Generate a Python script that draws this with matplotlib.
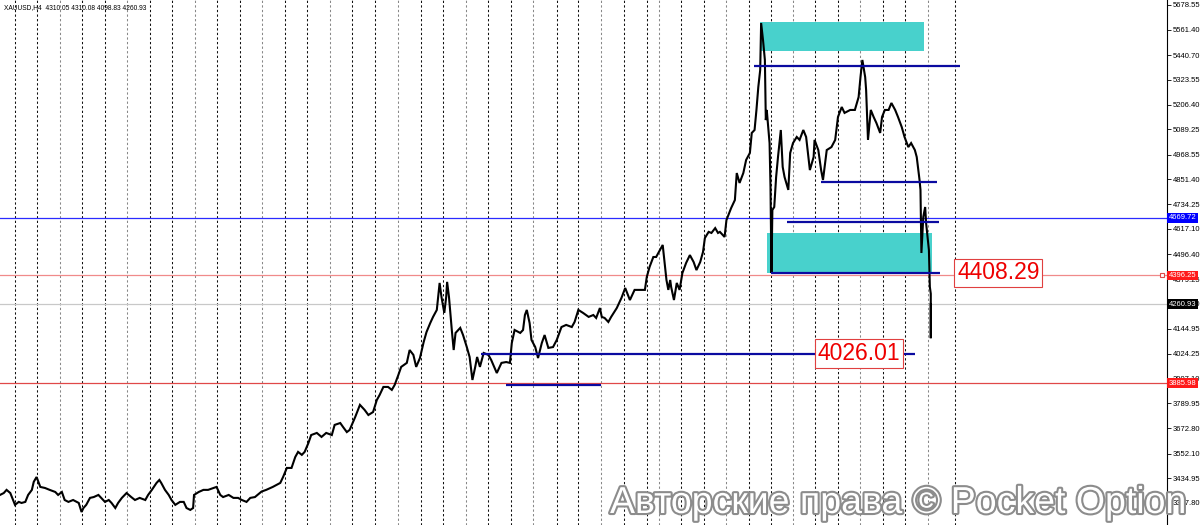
import matplotlib
matplotlib.use("Agg")
import matplotlib.pyplot as plt
import matplotlib.patheffects as pe
from matplotlib.transforms import blended_transform_factory

# ---------------- data ----------------
symbol_info = "XAUUSD,H4  4310.05 4310.08 4098.83 4260.93"

# time (hours since first bar) and traced price path of XAUUSD H4
hours = [
    0, 4, 7, 11, 14, 16, 20, 23, 27, 30,
    34, 36, 39, 43, 48, 53, 59, 62, 66, 69,
    73, 78, 84, 87, 89, 92, 96, 100, 105, 108,
    112, 116, 119, 123, 126, 130, 135, 140, 144, 149,
    155, 158, 162, 167, 170, 172, 176, 180, 183, 187,
    192, 196, 199, 203, 206, 207, 212, 217, 222, 228,
    231, 235, 238, 244, 249, 254, 258, 263, 267,
    272, 279, 284, 291, 299, 302, 306, 311, 315, 318,
    322, 325, 329, 332, 338, 343, 348, 354, 357, 363,
    366, 370, 373, 379, 384, 389, 393, 398, 402, 405,
    409, 414, 418, 421, 425, 428, 434, 437, 441, 444,
    448, 452, 455, 459, 462, 466, 469, 471, 474, 476,
    477, 479, 482, 484, 486, 491, 494, 498, 501, 504,
    507, 509, 512,
    516, 521, 524, 530, 535, 540, 544, 546, 549, 555,
    558, 560, 562, 565, 567, 571, 574, 578, 581, 585,
    590, 594, 599, 604, 610, 613, 617, 622, 628, 633,
    636, 640, 642, 645, 649, 652, 658, 663, 667, 672,
    677, 683, 688, 690, 693, 697, 700, 704, 707, 709,
    711, 713, 715, 716, 719, 722, 725, 728, 732, 736,
    740, 743, 747, 750, 752, 756, 759, 763, 766, 768,
    773, 775, 780, 784, 786, 789, 793, 796, 800, 802,
    805, 807, 809, 811, 812, 814, 816, 817, 818, 821,
    822, 823, 824, 826, 828, 830, 833, 835, 837, 841,
    843, 846, 850, 853, 857, 860, 864, 868, 869, 873,
    876, 878, 882, 887, 891, 894, 898, 901, 907, 912,
    916, 918, 920, 923, 924, 926, 929, 932, 935, 939,
    941, 944, 948, 951, 955, 958, 962, 965, 969, 972,
    976, 978, 981, 982, 983, 985, 987, 988, 991, 992,
    993, 993, 993,
]
price = [
    3356, 3365, 3380, 3365, 3332, 3309, 3323, 3318, 3323, 3356,
    3380, 3418, 3441, 3394, 3389, 3380, 3370, 3356, 3370, 3332,
    3323, 3332, 3318, 3275, 3294, 3309, 3342, 3346, 3356, 3342,
    3323, 3332, 3318, 3294, 3318, 3342, 3365, 3346, 3332, 3342,
    3332, 3356, 3380, 3413, 3427, 3413, 3380, 3356, 3332, 3309,
    3323, 3323, 3294, 3285, 3294, 3356, 3370, 3380, 3380, 3389,
    3394, 3356, 3346, 3356, 3342, 3342, 3332, 3323, 3342,
    3346, 3372, 3380, 3394, 3413, 3441, 3484, 3484, 3536, 3560,
    3546, 3560, 3602, 3640, 3650, 3631, 3650, 3640, 3688, 3697,
    3678, 3654, 3664, 3726, 3783, 3759, 3735, 3749, 3806, 3830,
    3868, 3868, 3854, 3877, 3925, 3963, 3982, 4043, 4020, 3963,
    4005, 4081, 4128, 4171, 4200, 4233, 4361, 4294, 4219, 4294,
    4366, 4294, 4138, 4043, 4124, 4148, 4114, 4057, 4010, 3901,
    3963, 4010, 3963,
    4029, 4020, 3996, 3934, 3982, 3986, 3982, 4076, 4138, 4124,
    4138, 4209, 4233, 4171, 4091, 4057, 4005, 4076, 4114, 4053,
    4057, 4091, 4152, 4162, 4152, 4176, 4233, 4219, 4200, 4209,
    4195, 4242, 4200, 4195, 4176, 4200, 4242, 4290, 4337, 4280,
    4328, 4328, 4328, 4389, 4437, 4484, 4484, 4517, 4541, 4456,
    4375, 4328, 4375, 4342, 4280, 4361, 4328, 4408, 4456, 4493,
    4460, 4422, 4460, 4508, 4574, 4603, 4598, 4621, 4598, 4603,
    4579, 4659, 4716, 4754, 4882, 4835, 4882, 4944, 4977, 5072,
    5086, 5181, 5290, 5370, 5593, 5513, 5418, 5133, 5181, 5024,
    4816, 4408, 4707, 4721, 4863, 4958, 5086, 4911, 4863, 4802,
    4977, 5024, 5053, 5039, 5086, 5053, 4896, 4958, 5039, 4991,
    4896, 4849, 4991, 5005, 5039, 5148, 5195, 5167, 5181, 5181,
    5242, 5337, 5418, 5337, 5276, 5039, 5181, 5148, 5119, 5072,
    5148, 5181, 5181, 5214, 5181, 5148, 5100, 5053, 5005, 5024,
    4991, 4958, 4849, 4802, 4503, 4674, 4721, 4645, 4517, 4342,
    4310, 4099, 4261,
]
assert len(hours) == len(price)

# day separators (hours)
day_marks = [16, 40, 64, 88, 112, 136, 160, 184, 208, 232, 256, 280, 304, 328,
             352, 376, 400, 425, 449, 473, 497, 521, 545, 569, 594, 617, 641,
             666, 690, 703, 727, 751, 775, 799, 822, 846, 870, 894, 918, 942,
             966, 990, 1019]

# supply / demand zones
zone_start = [811, 818]
zone_end = [986, 994]
zone_low = [5460, 4408]
zone_high = [5598, 4598]

# drawn levels (dark blue segments)
level_price = [5389, 4840, 4650, 4408.29, 4026.01, 3877]
level_start = [804, 876, 840, 822, 513, 540]
level_end = [1024, 1000, 1002, 1003, 976, 641]

# price-axis ticks
yticks = [5678.55, 5561.40, 5440.70, 5323.55, 5206.40, 5089.25, 4968.55,
          4851.40, 4734.25, 4617.10, 4496.40, 4379.25, 4262.10, 4144.95,
          4024.25, 3907.10, 3789.95, 3672.80, 3552.10, 3434.95, 3317.80]

# full-width horizontal lines and their axis labels
hline_vals = [4669.72, 4396.25, 4260.93, 3885.98]
hline_colors = ["#2b2bff", "#f08a8a", "#c8c8c8", "#e04848"]
hline_label_bg = ["#0000ff", "#ff1a1a", "#000000", "#ff1a1a"]

# callout labels
callouts = ["4408.29", "4026.01"]
callout_price = [4408.29, 4026.01]
callout_hour = [1021, 872]

watermark = "Авторские права © Pocket Option"

# ---------------- figure ----------------
fig = plt.figure(figsize=(12, 5.25), dpi=100)
ax = fig.add_axes([0, 0, 1167 / 1200, 1])
ax.set_xlim(0, 1245)
ax.set_ylim(3213.5, 5702.25)

for s in ["left", "top", "bottom"]:
    ax.spines[s].set_visible(False)
ax.spines["right"].set_color("black")
ax.spines["right"].set_linewidth(0.8)
ax.set_xticks([])

ax.yaxis.tick_right()
ax.set_yticks(yticks)
ax.set_yticklabels([f"{v:.2f}" for v in yticks])
ax.tick_params(axis="y", direction="out", length=3, width=0.6, pad=1,
               labelsize=5.5, colors="black")
for lab in ax.get_yticklabels():
    lab.set_family("Liberation Sans")

# day separators
sep_cols = ["#111111", "#111111", "#888888"]
for i, d in enumerate(day_marks):
    ax.axvline(d, color=sep_cols[i % 3], lw=0.75, ls=(0, (2.2, 2.2)), zorder=1)

# full-width lines
for v, c in zip(hline_vals, hline_colors):
    ax.axhline(v, color=c, lw=0.9, zorder=2)
ax.plot([1240], [hline_vals[1]], marker="s", ms=3, mfc="white",
        mec="#e04848", mew=0.8, zorder=4, clip_on=False)

# zones
for x0, x1, lo, hi in zip(zone_start, zone_end, zone_low, zone_high):
    ax.fill_between([x0, x1], [lo, lo], [hi, hi], color="#48d1cc", lw=0,
                    zorder=2)

# price path
ax.plot(hours, price, color="black", lw=1.5, zorder=3, solid_joinstyle="miter")

# levels
ax.hlines(level_price, level_start, level_end, color="#0a0aa0", lw=1.6,
          zorder=4)

# callouts
for t, p, h in zip(callouts, callout_price, callout_hour):
    ax.text(h, p, t, fontsize=16.5, color="#ee0000", family="Liberation Sans",
            ha="left", va="center", zorder=6,
            bbox=dict(boxstyle="square,pad=0.12", fc="white", ec="#e04040",
                      lw=0.8))

# axis value labels
trans = blended_transform_factory(ax.transAxes, ax.transData)
for v, bg in zip(hline_vals, hline_label_bg):
    ax.text(1.0015, v, f"{v:.2f}", transform=trans, color="white",
            fontsize=5.5, family="Liberation Sans", ha="left", va="center",
            clip_on=False, zorder=10,
            bbox=dict(boxstyle="square,pad=0.18", fc=bg, ec="none"))

# symbol info
ax.text(0.003, 0.993, symbol_info, transform=ax.transAxes, fontsize=4.8,
        family="Liberation Sans", va="top", ha="left", color="black")

# watermark
fig.text(610 / 1200, 1 - 513 / 525, watermark, fontsize=27,
         family="Liberation Sans", color="white", ha="left", va="baseline",
         zorder=20,
         path_effects=[pe.withStroke(linewidth=3, foreground="#8c8c8c")])

fig.savefig("out.png", dpi=100, facecolor="white")
